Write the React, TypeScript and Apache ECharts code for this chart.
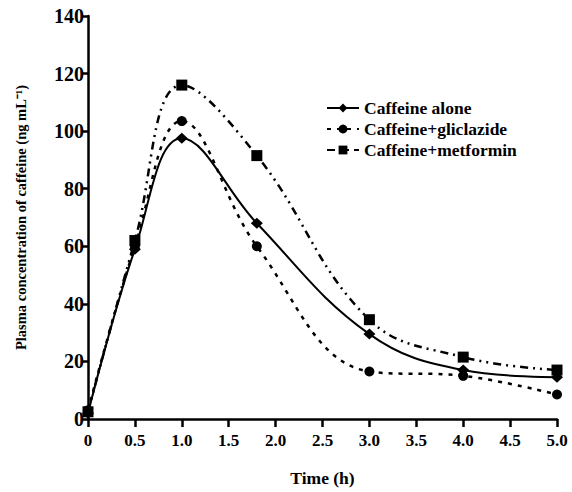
import React, { useEffect, useRef } from "react";
import * as echarts from "echarts";

const times = [0, 0.5, 1.0, 1.8, 3.0, 4.0, 5.0];
const caffeineAlone = [2, 59, 97.5, 68, 29.5, 17, 14.5];
const caffeineGliclazide = [3, 60, 103.5, 60, 16.5, 15, 8.5];
const caffeineMetformin = [2.5, 62, 116, 91.5, 34.5, 21.5, 17];
const seriesNames = ["Caffeine alone", "Caffeine+gliclazide", "Caffeine+metformin"];

const FONT = "'Liberation Serif', 'Times New Roman', serif";

export default function App() {
  const ref = useRef<HTMLDivElement>(null);
  useEffect(() => {
    document.body.style.margin = "0";
    if (!ref.current) return;
    const chart = echarts.init(ref.current, undefined, { renderer: "svg" });
    const pair = (vals: number[]) => times.map((t, i) => [t, vals[i]]);
    const baseText = { fontFamily: FONT, fontWeight: "bold" as const, color: "#000" };
    chart.setOption({
      animation: false,
      backgroundColor: "#fff",
      grid: { left: 88, right: 15, top: 16, bottom: 69 },
      legend: {
        orient: "vertical",
        left: 321,
        top: 94,
        itemGap: 3,
        itemWidth: 32,
        itemHeight: 11,
        textStyle: { ...baseText, fontSize: 17.5 },
        data: seriesNames,
      },
      xAxis: {
        type: "value",
        min: 0,
        max: 5,
        interval: 0.5,
        name: "Time (h)",
        nameLocation: "middle",
        nameGap: 50,
        nameTextStyle: { ...baseText, fontSize: 17.5 },
        splitLine: { show: false },
        axisLine: { lineStyle: { color: "#000", width: 2.5 } },
        axisTick: { inside: false, length: 8, lineStyle: { color: "#000", width: 2.5 } },
        axisLabel: {
          ...baseText,
          fontSize: 17,
          margin: 13,
          formatter: (v: number) => (v === 0 ? "0" : v.toFixed(1)),
        },
      },
      yAxis: {
        type: "value",
        min: 0,
        max: 140,
        interval: 20,
        name: "Plasma concentration of caffeine (ng mL\u207B\u00B9)",
        nameLocation: "middle",
        nameGap: 60,
        nameTextStyle: { ...baseText, fontSize: 14.5 },
        splitLine: { show: false },
        axisLine: { show: true, lineStyle: { color: "#000", width: 2.5 } },
        axisTick: { show: true, length: 6, lineStyle: { color: "#000", width: 2.5 } },
        axisLabel: { ...baseText, fontSize: 20, margin: 4 },
      },
      series: [
        {
          name: seriesNames[0],
          type: "line",
          smooth: 0.4,
          data: pair(caffeineAlone),
          symbol: "diamond",
          symbolSize: [12, 11],
          itemStyle: { color: "#000" },
          lineStyle: { color: "#000", width: 2, type: "solid" },
        },
        {
          name: seriesNames[1],
          type: "line",
          smooth: 0.4,
          data: pair(caffeineGliclazide),
          symbol: "circle",
          symbolSize: 10,
          itemStyle: { color: "#000" },
          lineStyle: { color: "#000", width: 2.5, type: [4, 6] },
        },
        {
          name: seriesNames[2],
          type: "line",
          smooth: 0.4,
          data: pair(caffeineMetformin),
          symbol: "rect",
          symbolSize: 11,
          itemStyle: { color: "#000" },
          lineStyle: { color: "#000", width: 2.5, type: [8, 5, 2, 5, 2, 5] },
        },
      ],
    });
    return () => chart.dispose();
  }, []);
  return <div ref={ref} style={{ width: 572, height: 492 }} />;
}
